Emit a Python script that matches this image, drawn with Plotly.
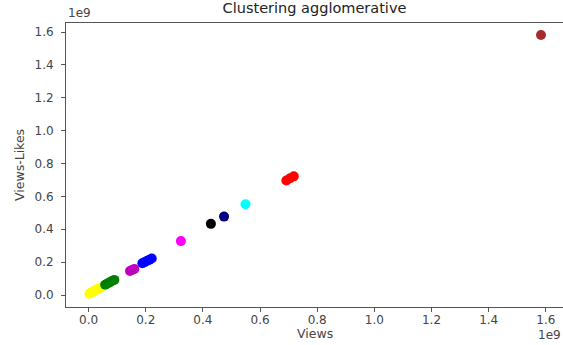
import plotly.graph_objects as go

# Cluster data (values in raw units; axes show them scaled by 1e9)
cluster_colors = ["#ffff00", "#008000", "#bf00bf", "#0000ff", "#ff00ff",
                  "#000000", "#000080", "#00ffff", "#ff0000", "#a52a2a"]

views = [
    [0.003e9, 0.008e9, 0.013e9, 0.018e9, 0.023e9, 0.028e9, 0.033e9, 0.038e9, 0.043e9],
    [0.058e9, 0.066e9, 0.074e9, 0.082e9, 0.090e9],
    [0.145e9, 0.152e9, 0.160e9],
    [0.188e9, 0.196e9, 0.205e9, 0.213e9, 0.221e9],
    [0.323e9],
    [0.428e9],
    [0.474e9],
    [0.549e9],
    [0.692e9, 0.705e9, 0.718e9],
    [1.583e9],
]
views_minus_likes = [
    [0.008e9, 0.013e9, 0.018e9, 0.023e9, 0.028e9, 0.033e9, 0.038e9, 0.042e9, 0.046e9],
    [0.062e9, 0.070e9, 0.077e9, 0.085e9, 0.092e9],
    [0.146e9, 0.152e9, 0.158e9],
    [0.193e9, 0.200e9, 0.208e9, 0.215e9, 0.222e9],
    [0.328e9],
    [0.433e9],
    [0.477e9],
    [0.552e9],
    [0.697e9, 0.710e9, 0.722e9],
    [1.582e9],
]

tick_vals = [0.0, 0.2e9, 0.4e9, 0.6e9, 0.8e9, 1.0e9, 1.2e9, 1.4e9, 1.6e9]
tick_text = ["0.0", "0.2", "0.4", "0.6", "0.8", "1.0", "1.2", "1.4", "1.6"]

fig = go.Figure()
for xs, ys, col in zip(views, views_minus_likes, cluster_colors):
    fig.add_trace(go.Scatter(x=xs, y=ys, mode="markers",
                             marker=dict(color=col, size=10, line=dict(width=0)),
                             showlegend=False))

font = "DejaVu Sans, sans-serif"
tick_font = dict(family=font, size=12, color="#444444")
label_font = dict(family=font, size=12.5, color="#444444")
axis_common = dict(showgrid=False, zeroline=False, showline=True, linecolor="#555555",
                   linewidth=1, mirror=True, ticks="outside", ticklen=4, automargin=False,
                   tickcolor="#555555", tickfont=tick_font)

fig.update_layout(
    width=563, height=345,
    margin=dict(l=66, r=0, t=23, b=38),
    paper_bgcolor="white", plot_bgcolor="white",
    title=dict(text="Clustering agglomerative", x=0.5, xref="paper", xanchor="center",
               y=1, yref="container", yanchor="top", pad=dict(t=3),
               font=dict(family=font, size=14.5, color="#222222")),
    xaxis=dict(range=[-0.079e9, 1.66e9], tickvals=tick_vals, ticktext=tick_text,
               ticklabelstandoff=-2, **axis_common),
    yaxis=dict(range=[-0.073e9, 1.655e9], tickvals=tick_vals, ticktext=tick_text,
               ticklabelstandoff=5, **axis_common),
    annotations=[
        dict(text="1e9", xref="paper", yref="paper", x=0, y=1, xanchor="left", yanchor="bottom",
             yshift=1, showarrow=False, font=tick_font),
        dict(text="1e9", xref="paper", yref="paper", x=1, y=0, xanchor="right", yanchor="top",
             yshift=-19, showarrow=False, font=tick_font),
        dict(text="Views", xref="paper", yref="paper", x=0.5, y=0, xanchor="center", yanchor="top",
             yshift=-17, showarrow=False, font=label_font),
        dict(text="Views-Likes", xref="paper", yref="paper", x=0, y=0.5, xanchor="center",
             yanchor="middle", xshift=-47, textangle=-90, showarrow=False, font=label_font),
    ],
)

fig.write_html("out.html", config={"displayModeBar": False},
               post_script="document.body.style.margin='0';document.body.style.padding='0';")
